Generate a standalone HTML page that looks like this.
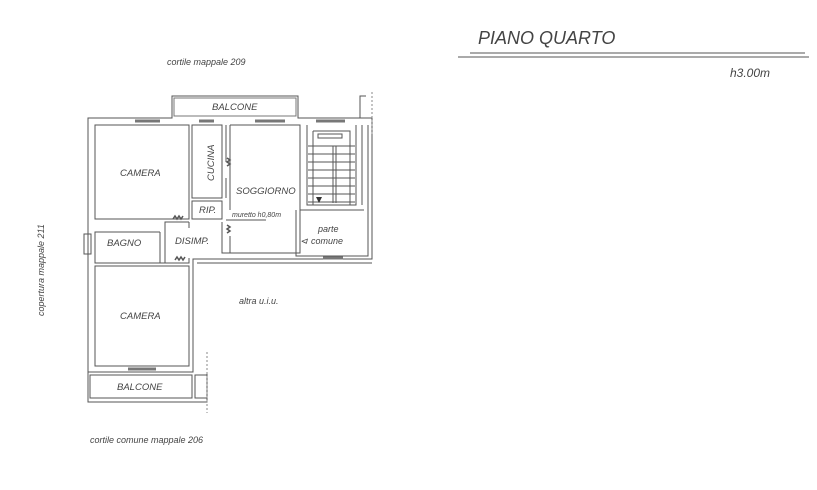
<!DOCTYPE html>
<html><head><meta charset="utf-8"><style>
html,body{margin:0;padding:0;background:#fff;width:817px;height:490px;overflow:hidden}
text{font-family:"Liberation Sans",sans-serif;font-style:italic;fill:#444}
</style></head><body>
<svg width="817" height="490" viewBox="0 0 817 490" xmlns="http://www.w3.org/2000/svg">
<g fill="none" stroke="#555" stroke-width="1">
<path d="M88 372 V118 H172 V96 H298 V118 H372 V259 H193 V372 H88"/>
<path d="M360 118 V96 H366"/>
<path d="M88 372 V402 H207 V372"/>
<rect x="174" y="98" width="122" height="18" stroke="#777"/>
<rect x="95" y="125" width="94" height="94"/>
<rect x="192" y="125" width="30" height="73"/>
<rect x="192" y="201" width="30" height="18"/>
<path d="M230 125 H300 V253 H230 V236 M230 210 V125"/>
<path d="M226 125 V162 M226 178 V198"/>
<path d="M226 220 H266"/>
<path d="M189 222 H165 V263 M160 232 H95 V263 H160 V232"/>
<path d="M189 258 V263 H95 M189 222 V228 M222 222 V253 H230"/>
<path d="M307 125 V205 H356 V125"/>
<path d="M313 131 H350 V205 M313 131 V205"/>
<rect x="318" y="134" width="24" height="4"/>
<path d="M333 146 V203 M336 146 V203"/>
<path d="M308 146 H355 M308 154 H355 M308 162 H355 M308 170 H355 M308 178 H355 M308 186 H355 M308 194 H355 M308 202 H355"/>
<path d="M296 210 V256 H368 V210 M300 210 H364"/>
<path d="M362 125 V205 M368 125 V256"/>
<rect x="84" y="234" width="7" height="20"/>
<rect x="95" y="266" width="94" height="100"/>
<rect x="90" y="375" width="102" height="23"/>
<rect x="195" y="375" width="12" height="23"/>
<path d="M193 259 V366 M197 263 H372"/>
</g>
<g stroke="#777" stroke-width="3">
<line x1="135" y1="121" x2="160" y2="121"/>
<line x1="199" y1="121" x2="214" y2="121"/>
<line x1="255" y1="121" x2="285" y2="121"/>
<line x1="316" y1="121" x2="345" y2="121"/>
<line x1="128" y1="369" x2="156" y2="369"/>
<line x1="323" y1="258" x2="343" y2="258"/>
</g>
<g stroke="#555" stroke-width="1.5" fill="none">
<path d="M173 219 l2 -3 l2 3 l2 -3 l2 3 l2 -3"/>
<path d="M175 260 l2 -3 l2 3 l2 -3 l2 3 l2 -3"/>
<path d="M227 158 l3 2 l-3 2 l3 2 l-3 2"/>
<path d="M227 225 l3 2 l-3 2 l3 2 l-3 2"/>
</g>
<g stroke="#888" stroke-width="1" stroke-dasharray="2,2">
<line x1="372" y1="92" x2="372" y2="135"/>
<line x1="207" y1="352" x2="207" y2="413"/>
</g>
<path d="M316 197 l3 6 l3 -6 z" fill="#333"/>
<text x="167" y="65" font-size="9">cortile mappale 209</text>
<text x="212" y="110" font-size="9.5">BALCONE</text>
<text x="120" y="176" font-size="9.5">CAMERA</text>
<text x="214" y="181" font-size="9.5" transform="rotate(-90 214 181)">CUCINA</text>
<text x="236" y="194" font-size="9.5">SOGGIORNO</text>
<text x="199" y="213" font-size="9.5">RIP.</text>
<text x="232" y="217" font-size="7">muretto h0,80m</text>
<text x="107" y="246" font-size="9.5">BAGNO</text>
<text x="175" y="244" font-size="9.5">DISIMP.</text>
<text x="318" y="232" font-size="9">parte</text>
<text x="311" y="244" font-size="9">comune</text>
<text x="300" y="244" font-size="9">⊲</text>
<text x="239" y="304" font-size="9">altra u.i.u.</text>
<text x="120" y="319" font-size="9.5">CAMERA</text>
<text x="117" y="390" font-size="9.5">BALCONE</text>
<text x="90" y="443" font-size="9">cortile comune mappale 206</text>
<text x="44" y="316" font-size="9" transform="rotate(-90 44 316)">copertura mappale 211</text>
<text x="478" y="44" font-size="18" fill="#111">PIANO QUARTO</text>
<line x1="470" y1="53" x2="805" y2="53" stroke="#555"/>
<line x1="458" y1="57" x2="809" y2="57" stroke="#555"/>
<text x="730" y="77" font-size="12" fill="#111">h3.00m</text>
</svg>
</body></html>
